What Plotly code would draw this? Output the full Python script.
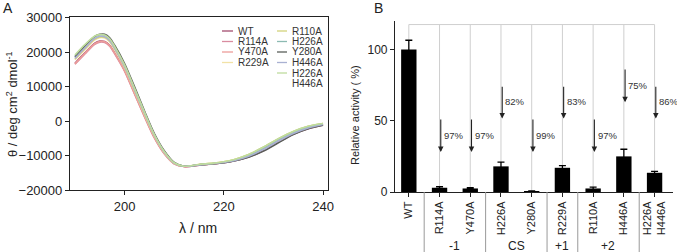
import plotly.graph_objects as go

FONT = "Liberation Sans, Arial, sans-serif"

# ---------------- Panel A data (CD spectra) ----------------
wavelength = [190, 192, 194, 195, 196, 197, 198, 200, 202, 204, 206, 208, 210, 212,
              215, 218, 220, 222, 225, 228, 231, 234, 237, 240]
cd_WT = [16800, 19800, 22600, 23200, 23100, 22000, 19800, 14800, 8200, 1600, -4600, -9300,
         -12300, -13200, -12800, -12400, -12100, -11600, -10400, -8600, -6100, -3800, -2200, -1100]
cd_R114A = [16500, 19500, 22300, 22900, 22800, 21700, 19500, 14500, 7900, 1300, -4900, -9500,
            -12400, -13200, -12800, -12400, -12000, -11500, -10300, -8400, -6000, -3700, -2100, -1000]
cd_Y470A = [16600, 19700, 22500, 23100, 23000, 21900, 19700, 14600, 8000, 1400, -4800, -9400,
            -12400, -13200, -12700, -12300, -11900, -11400, -10200, -8200, -5800, -3500, -1900, -900]
cd_R229A = [17800, 20800, 23600, 24200, 24100, 23000, 20800, 15500, 8800, 2000, -4300, -9100,
            -12200, -13100, -12600, -12200, -11800, -11200, -9800, -7600, -5200, -3100, -1600, -700]
cd_R110A = [18000, 21000, 23800, 24400, 24300, 23200, 21000, 15700, 9000, 2200, -4200, -9000,
            -12200, -13100, -12600, -12200, -11800, -11200, -9700, -7500, -5100, -3000, -1500, -700]
cd_H226A = [18800, 21900, 24500, 25000, 24900, 23800, 21600, 16200, 9500, 2600, -3900, -8800,
            -12100, -13100, -12700, -12300, -12000, -11500, -10100, -8000, -5600, -3400, -1800, -800]
cd_Y280A = [18600, 21800, 24600, 25200, 25200, 24200, 22000, 16700, 10000, 3000, -3600, -8600,
            -12000, -13100, -12700, -12400, -12100, -11600, -10500, -8700, -6300, -3900, -2200, -1200]
cd_H446A = [18200, 21200, 24000, 24600, 24500, 23400, 21200, 15900, 9200, 2400, -4100, -9000,
            -12200, -13100, -12700, -12300, -12000, -11500, -10200, -8200, -5800, -3600, -2000, -1000]
cd_H226A_H446A = [19200, 22200, 24700, 25100, 25000, 23900, 21700, 16300, 9600, 2700, -3900, -8800,
                  -12100, -13100, -12600, -12200, -11800, -11200, -9700, -7500, -5100, -3000, -1500, -700]

cd_names = ["WT", "R114A", "Y470A", "R229A", "R110A", "H226A", "Y280A", "H446A", "H226A<br>H446A"]
cd_series = [cd_WT, cd_R114A, cd_Y470A, cd_R229A, cd_R110A, cd_H226A, cd_Y280A, cd_H446A, cd_H226A_H446A]
cd_colors = ["#a24d6e", "#d98ca0", "#ec9c9a", "#f2e2a6", "#d2d27a", "#8cbab2", "#5a5f5a", "#a9b1d2", "#bfdc9e"]

# ---------------- Panel B data (relative activity) ----------------
mutants = ["WT", "R114A", "Y470A", "H226A", "Y280A", "R229A", "R110A", "H446A", "H226A<br>H446A"]
activity = [100, 3, 2.5, 18, 0.5, 17, 2.5, 25, 13.5]
activity_err = [6.5, 0.7, 0.5, 3, 0.3, 1.5, 1, 5, 1]
reduction = [None, "97%", "97%", "82%", "99%", "83%", "97%", "75%", "86%"]
arrow_from = [None, 52, 52, 75, 52, 75, 52, 87, 75]
arrow_to = [None, 28, 28, 51.5, 28, 51.5, 28, 63, 51.5]
bracket_level = 117.5
groups = [("-1", 1, 2), ("CS", 3, 4), ("+1", 5, 5), ("+2", 6, 7)]

fig = go.Figure()

# Panel A traces
for name, ys, col in zip(cd_names, cd_series, cd_colors):
    fig.add_trace(go.Scatter(x=wavelength, y=ys, mode="lines", name=name,
                             line=dict(color=col, width=1.6, shape="spline", smoothing=0.8),
                             xaxis="x", yaxis="y", showlegend=False))

# Panel B bars
idx = list(range(len(mutants)))
fig.add_trace(go.Bar(x=idx, y=activity, marker=dict(color="black", line=dict(width=0)), width=0.5,
                     error_y=dict(type="data", array=activity_err, color="black", thickness=1.3, width=3.5),
                     xaxis="x2", yaxis="y2", showlegend=False))

shapes = []
annotations = []

# bracket lines (grey)
shapes.append(dict(type="line", xref="x2", yref="y2", x0=0, x1=len(mutants) - 1,
                   y0=bracket_level, y1=bracket_level, line=dict(color="#cfcfcf", width=1)))
for i in idx:
    shapes.append(dict(type="line", xref="x2", yref="y2", x0=i, x1=i,
                       y0=activity[i] + activity_err[i], y1=bracket_level,
                       line=dict(color="#cfcfcf", width=1), layer="below"))

# arrows + percent labels
for i in idx:
    if reduction[i] is None:
        continue
    annotations.append(dict(x=i + 0.04, y=arrow_to[i], ax=i + 0.04, ay=arrow_from[i],
                            xref="x2", yref="y2", axref="x2", ayref="y2", text="",
                            showarrow=True, arrowhead=2, arrowsize=1, arrowwidth=1.1,
                            arrowcolor="#222"))
    annotations.append(dict(x=i + 0.08, y=(arrow_from[i] + arrow_to[i]) / 2, xref="x2", yref="y2",
                            text=reduction[i], showarrow=False, xanchor="left", yanchor="middle",
                            font=dict(family=FONT, size=9.5, color="#333")))

# group separators and labels
bounds = sorted(set([g[1] - 0.5 for g in groups] + [g[2] + 0.5 for g in groups]))
for b in bounds:
    shapes.append(dict(type="line", xref="x2", yref="paper", x0=b, x1=b, y0=0, y1=0.238,
                       line=dict(color="#999", width=1)))
for lab, a, b in groups:
    annotations.append(dict(x=(a + b) / 2, y=(252 - 245.5) / 252, xref="x2", yref="paper", text=lab,
                            showarrow=False, xanchor="center", yanchor="middle",
                            font=dict(family=FONT, size=12, color="#222")))

# Panel A manual legend (two columns)
W, H = 677, 252
rows_y = [31, 41.5, 52, 62.5, 73, 83.5]
col_x = [(222, 233, 236), (277, 287, 290)]
for k, (name, col) in enumerate(zip(cd_names, cd_colors)):
    c = 0 if k < 4 else 1
    r = k if k < 4 else k - 4
    lx0, lx1, tx = col_x[c]
    y = rows_y[r]
    shapes.append(dict(type="line", xref="paper", yref="paper", x0=lx0 / W, x1=lx1 / W,
                       y0=1 - y / H, y1=1 - y / H, line=dict(color=col, width=1.3)))
    for j, part in enumerate(name.split("<br>")):
        yy = y + j * (rows_y[1] - rows_y[0])
        annotations.append(dict(x=tx / W, y=1 - yy / H, xref="paper", yref="paper",
                                text=part, showarrow=False, xanchor="left", yanchor="middle",
                                font=dict(family=FONT, size=10, color="#333")))

# titles / panel letters
annotations += [
    dict(x=8 / W, y=1 - 8 / H, xref="paper", yref="paper", text="A", showarrow=False,
         xanchor="center", yanchor="middle", font=dict(family=FONT, size=14, color="#222")),
    dict(x=378 / W, y=1 - 8 / H, xref="paper", yref="paper", text="B", showarrow=False,
         xanchor="center", yanchor="middle", font=dict(family=FONT, size=14, color="#222")),
    dict(x=12 / W, y=1 - 104 / H, xref="paper", yref="paper",
         text="θ / deg cm<sup>2</sup> dmol<sup>-1</sup>", showarrow=False, textangle=-90,
         xanchor="center", yanchor="middle", font=dict(family=FONT, size=13, color="#222")),
    dict(x=198 / W, y=1 - 228 / H, xref="paper", yref="paper", text="λ / nm", showarrow=False,
         xanchor="center", yanchor="middle", font=dict(family=FONT, size=14, color="#222")),
    dict(x=355 / W, y=1 - 115 / H, xref="paper", yref="paper", text="Relative activity ( %)",
         showarrow=False, textangle=-90, xanchor="center", yanchor="middle",
         font=dict(family=FONT, size=11, color="#222")),
]

axis_common = dict(showgrid=False, zeroline=False, ticks="outside", ticklen=4, tickwidth=1,
                   tickcolor="#222", linecolor="#222", showline=True, automargin=False)

fig.update_layout(
    width=W, height=H, margin=dict(l=0, r=0, t=0, b=0, pad=0, autoexpand=False),
    paper_bgcolor="white", plot_bgcolor="white",
    font=dict(family=FONT, color="#222"),
    xaxis=dict(domain=[70 / W, 328 / W], range=[189, 241], tickvals=[200, 220, 240],
               mirror=True, linewidth=1.2, anchor="y",
               tickfont=dict(size=13), **axis_common),
    yaxis=dict(domain=[0.246, 0.9325], range=[-20000, 30200],
               tickvals=[-20000, -10000, 0, 10000, 20000, 30000], tickformat="d",
               mirror=True, linewidth=1.2, anchor="x",
               tickfont=dict(size=13), **axis_common),
    xaxis2=dict(domain=[395 / W, 673 / W], range=[-0.45, 8.6], tickvals=idx, ticktext=mutants,
                tickangle=-90, linewidth=1.2, anchor="y2", tickfont=dict(size=11), **axis_common),
    yaxis2=dict(domain=[0.238, 0.9167], range=[0, 120], tickvals=[0, 50, 100], linewidth=1.2,
                anchor="x2", tickfont=dict(size=12), **axis_common),
    shapes=shapes, annotations=annotations, bargap=0.5,
)

fig.write_html("out.html", config={"displayModeBar": False},
               post_script="document.body.style.margin='0px';")
